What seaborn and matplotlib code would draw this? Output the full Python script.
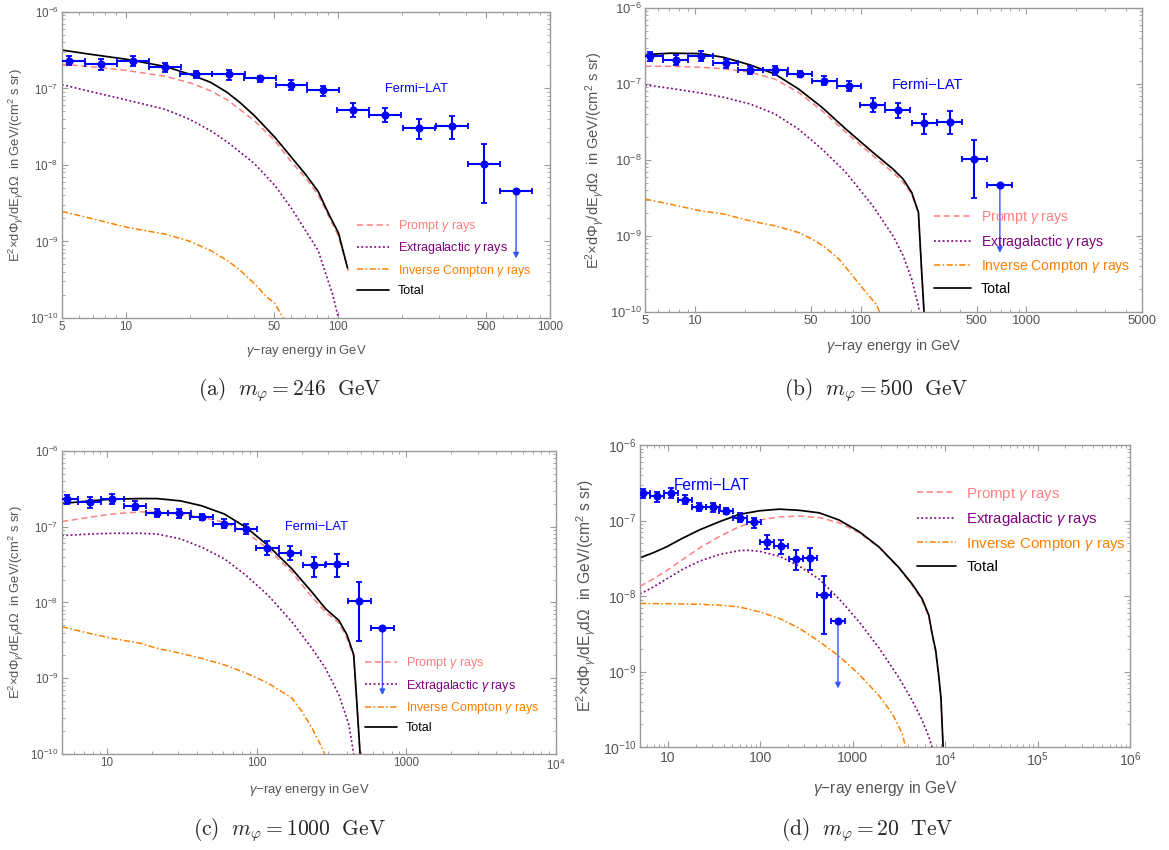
import numpy as np
import seaborn as sns
import matplotlib
matplotlib.use("Agg")
import matplotlib.pyplot as plt
from matplotlib.lines import Line2D
from matplotlib.ticker import LogLocator, NullFormatter

# Fermi-LAT points (same in every panel)
FERMI_E = [5.37, 7.64, 10.8, 15.3, 21.5, 30.5, 42.8, 60.4, 84.9, 118, 167, 241, 345, 486, 692]
FERMI_E_LO = [4.5, 6.4, 9.1, 12.9, 18.1, 25.6, 36.0, 50.8, 71.4, 99.2, 140, 203, 290, 409, 582]
FERMI_E_HI = [6.4, 9.1, 12.9, 18.2, 25.6, 36.3, 50.9, 71.8, 101, 140, 199, 287, 410, 578, 823]
FERMI_FLUX = [2.31e-7, 2.09e-7, 2.31e-7, 1.89e-7, 1.52e-7, 1.52e-7, 1.35e-7, 1.10e-7, 9.46e-8,
              5.29e-8, 4.55e-8, 3.08e-8, 3.20e-8, 1.04e-8, 4.62e-9]
FERMI_HI = [2.63e-7, 2.43e-7, 2.69e-7, 2.16e-7, 1.71e-7, 1.73e-7, 1.47e-7, 1.27e-7, 1.08e-7,
            6.46e-8, 5.62e-8, 4.03e-8, 4.37e-8, 1.85e-8]
FERMI_LO = [2.01e-7, 1.76e-7, 1.99e-7, 1.64e-7, 1.35e-7, 1.30e-7, 1.22e-7, 9.6e-8, 7.98e-8,
            4.24e-8, 3.61e-8, 2.19e-8, 2.19e-8, 3.13e-9]
UL_END = 6.0e-10

# (a) m = 246 GeV
A_TOT_E = [5, 6.7, 10, 15.4, 20.3, 25.1, 30, 34.6, 40.4, 50.4, 60.2, 70.7, 80.7, 90.8, 100.6, 111]
A_TOT = [3.17e-7, 2.81e-7, 2.41e-7, 1.93e-7, 1.51e-7, 1.2e-7, 8.9e-8, 6.5e-8, 4.4e-8, 2.3e-8,
         1.27e-8, 7.4e-9, 4.5e-9, 2.24e-9, 1.29e-9, 4.5e-10]
A_PR_E = [5, 6.7, 10, 15.4, 20.3, 25.1, 30, 34.6, 40.4, 50.4, 60.2, 70.7, 80.7, 90.8, 100.6, 112]
A_PR = [2.07e-7, 1.93e-7, 1.72e-7, 1.44e-7, 1.17e-7, 9.3e-8, 7.1e-8, 5.3e-8, 3.77e-8, 2.08e-8,
        1.10e-8, 6.7e-9, 4.06e-9, 2.1e-9, 1.17e-9, 4.1e-10]
A_EG_E = [5, 6.7, 10, 15.4, 19.9, 25.1, 30.2, 40.4, 50.4, 60.2, 70.7, 80.7, 90.8, 94.1, 100.5]
A_EG = [1.12e-7, 9.2e-8, 7.1e-8, 5.3e-8, 3.97e-8, 2.8e-8, 1.98e-8, 1.04e-8, 5.4e-9, 2.73e-9,
        1.36e-9, 7.6e-10, 2.8e-10, 2.1e-10, 1.0e-10]
A_IC_E = [5, 6.7, 10, 15.4, 19.9, 25.1, 30.2, 34.6, 40.4, 46.1, 50.4, 54.1, 55.5]
A_IC = [2.47e-9, 2.03e-9, 1.54e-9, 1.24e-9, 1.01e-9, 7.6e-10, 5.6e-10, 4.2e-10, 2.8e-10,
        1.89e-10, 1.55e-10, 1.1e-10, 1.0e-10]

# (b) m = 500 GeV
B_E = [5, 7.07, 10.8, 14.9, 21.5, 30.3, 42.1, 58.3, 81.3, 118.3, 156.6, 180.3, 203, 223, 232, 241]
B_TOT = [2.44e-7, 2.54e-7, 2.51e-7, 2.24e-7, 1.78e-7, 1.35e-7, 8.6e-8, 4.93e-8, 2.55e-8, 1.26e-8,
         7.6e-9, 5.6e-9, 3.74e-9, 2.05e-9, 4.2e-10, 1e-10]
B_PR = [1.71e-7, 1.71e-7, 1.66e-7, 1.58e-7, 1.43e-7, 1.16e-7, 7.77e-8, 4.45e-8, 2.31e-8, 1.14e-8,
        6.86e-9, 5.06e-9, 3.56e-9, 1.98e-9, 4.1e-10, 1e-10]
B_EG_E = [5, 7.07, 10.8, 14.9, 21.5, 30.3, 42.1, 58.3, 81.3, 118.3, 156.6, 180.3, 203, 223, 226]
B_EG = [9.7e-8, 8.77e-8, 7.61e-8, 6.67e-8, 5.45e-8, 4.03e-8, 2.55e-8, 1.39e-8, 6.86e-9, 2.49e-9,
        1.0e-9, 5.5e-10, 2.7e-10, 1.2e-10, 1e-10]
B_IC_E = [5, 7.07, 10.8, 14.9, 21.5, 30.3, 42.1, 50.8, 61.2, 74.0, 89.4, 107.8, 124, 130]
B_IC = [3.05e-9, 2.62e-9, 2.14e-9, 1.94e-9, 1.58e-9, 1.36e-9, 1.11e-9, 9.1e-10, 7.05e-10, 4.94e-10,
        2.98e-10, 1.8e-10, 1.26e-10, 1e-10]

# (c) m = 1000 GeV
C_E = [5, 7.65, 10.8, 16.7, 21.6, 31.0, 42.8, 60.8, 84.9, 119.3, 171.8, 234, 288, 354, 401, 445, 468, 491]
C_TOT = [2.02e-7, 2.19e-7, 2.31e-7, 2.35e-7, 2.35e-7, 2.19e-7, 1.89e-7, 1.47e-7, 9.8e-8, 5.63e-8,
         2.78e-8, 1.37e-8, 8.3e-9, 5.8e-9, 3.75e-9, 2.04e-9, 4.5e-10, 1e-10]
C_PR = [1.17e-7, 1.33e-7, 1.47e-7, 1.57e-7, 1.54e-7, 1.47e-7, 1.33e-7, 1.14e-7, 8.4e-8, 5.1e-8,
        2.52e-8, 1.18e-8, 7.5e-9, 5.4e-9, 3.39e-9, 1.94e-9, 4.3e-10, 1e-10]
C_EG_E = [5, 7.65, 10.8, 16.7, 21.6, 31.0, 42.8, 60.8, 84.9, 119.3, 171.8, 234, 288, 354, 413, 445]
C_EG = [7.62e-8, 8.0e-8, 8.17e-8, 8.17e-8, 8.0e-8, 6.9e-8, 5.36e-8, 3.77e-8, 2.28e-8, 1.24e-8,
        5.55e-9, 2.48e-9, 1.36e-9, 6.05e-10, 2.44e-10, 1e-10]
C_IC_E = [5, 7.65, 10.8, 16.7, 21.6, 31.0, 42.8, 60.8, 84.9, 119.3, 171.8, 200, 234, 273, 285]
C_IC = [4.77e-9, 3.9e-9, 3.36e-9, 2.89e-9, 2.48e-9, 2.13e-9, 1.83e-9, 1.5e-9, 1.17e-9, 8.6e-10,
        5.47e-10, 3.66e-10, 2.21e-10, 1.21e-10, 1e-10]

# (d) m = 20 TeV
D_E = [5, 6.89, 9.61, 14.5, 22.0, 36.1, 59.3, 97.6, 160.5, 263.6, 433, 712, 1171, 1925, 3163,
       4404, 5638, 6654, 7220, 7900, 8500, 9000, 9500]
D_TOT = [3.22e-8, 3.74e-8, 4.48e-8, 5.87e-8, 7.54e-8, 9.68e-8, 1.21e-7, 1.35e-7, 1.42e-7, 1.37e-7,
         1.27e-7, 1.02e-7, 7.16e-8, 4.48e-8, 2.38e-8, 1.44e-8, 9.2e-9, 5.58e-9, 3.2e-9, 1.9e-9,
         9.0e-10, 4.5e-10, 1e-10]
D_PR = [1.35e-8, 1.68e-8, 2.16e-8, 3.06e-8, 4.35e-8, 6.17e-8, 8.33e-8, 1.02e-7, 1.12e-7, 1.15e-7,
        1.10e-7, 9.4e-8, 6.95e-8, 4.4e-8, 2.35e-8, 1.39e-8, 8.7e-9, 5.3e-9, 3.06e-9, 1.8e-9,
        8.6e-10, 4.3e-10, 1e-10]
D_EG_E = [5, 6.89, 9.61, 14.5, 22.0, 36.1, 59.3, 73.0, 97.6, 160.5, 263.6, 433, 712, 1171, 1925,
          3163, 4404, 5638, 6654, 7220]
D_EG = [1.07e-8, 1.31e-8, 1.68e-8, 2.27e-8, 2.91e-8, 3.56e-8, 4.01e-8, 4.05e-8, 3.93e-8, 3.38e-8,
        2.5e-8, 1.68e-8, 9.2e-9, 4.57e-9, 2.05e-9, 8.3e-10, 4.13e-10, 2.26e-10, 1.37e-10, 1e-10]
D_IC_E = [5, 9.61, 22.0, 36.1, 59.3, 97.6, 160.5, 263.6, 433, 712, 1171, 1925, 2681, 3435, 3727]
D_IC = [8.0e-9, 7.95e-9, 7.8e-9, 7.6e-9, 7.2e-9, 6.2e-9, 5.07e-9, 3.76e-9, 2.52e-9, 1.6e-9,
        9.2e-10, 4.8e-10, 2.77e-10, 1.51e-10, 1e-10]

LABELS = [r"Prompt $\gamma$ rays", r"Extragalactic $\gamma$ rays",
          r"Inverse Compton $\gamma$ rays", "Total"]
COLORS = ["#ff8080", "#800080", "#ff8000", "black"]
STYLES = [(0, (4, 2.4)), (0, (1.1, 1.5)), (0, (4, 1.6, 1.1, 1.6)), "-"]
WIDTHS = [1.1, 1.2, 1.1, 1.25]
BLUE = "#0000ff"
FRAME = "#9a9a9a"
TXT = "#555555"

sns.set_style("ticks")
plt.rcParams["font.family"] = ["Liberation Sans", "DejaVu Sans"]
plt.rcParams["mathtext.fontset"] = "custom"
plt.rcParams["mathtext.rm"] = "Liberation Sans"
plt.rcParams["mathtext.it"] = "Liberation Sans:italic"
plt.rcParams["mathtext.bf"] = "Liberation Sans:bold"

XLABEL = "$\\gamma$\u2212ray energy in GeV"
YLABEL = "E$^2$\u00d7d$\\Phi_\\gamma$/dE$_\\gamma$d$\\Omega$  in GeV/(cm$^2$ s sr)"


def draw_panel(ax, curves, xmax, xticks, xlabels, fermi_xy, leg_xy, s):
    ax.set_xscale("log")
    ax.set_yscale("log")
    # model curves, order: prompt, extragalactic, IC, total
    for (E, Y), c, ls, lw in zip(curves, COLORS, STYLES, WIDTHS):
        sns.lineplot(x=E, y=Y, ax=ax, color=c, linestyle=ls, linewidth=lw,
                     estimator=None, sort=False, legend=False)

    # Fermi-LAT data, last point is an upper limit
    n = len(FERMI_HI)
    E = np.array(FERMI_E)
    F = np.array(FERMI_FLUX)
    xlo = E - np.array(FERMI_E_LO)
    xhi = np.array(FERMI_E_HI) - E
    yerr = [F[:n] - np.array(FERMI_LO), np.array(FERMI_HI) - F[:n]]
    kw = dict(fmt="o", color=BLUE, ms=4.8, elinewidth=1.5, capsize=2.2, capthick=1.3, zorder=5)
    ax.errorbar(E[:n], F[:n], xerr=[xlo[:n], xhi[:n]], yerr=yerr, **kw)
    ax.errorbar(E[n:], F[n:], xerr=[xlo[n:], xhi[n:]], **kw)
    ax.annotate("", xy=(E[-1], UL_END), xytext=(E[-1], F[-1]),
                arrowprops=dict(arrowstyle="-|>", color="#3355ff", lw=1.0,
                                mutation_scale=8, shrinkA=0, shrinkB=0))
    ax.text(fermi_xy[0], fermi_xy[1], "Fermi\u2212LAT", color=BLUE,
            fontsize=9.3 * s, ha="center", va="center")

    ax.set_xlim(5, xmax)
    ax.set_ylim(1e-10, 1e-6)
    ax.set_xticks(xticks)
    ax.set_xticklabels(xlabels)
    ax.xaxis.set_minor_locator(LogLocator(base=10, subs=np.arange(2, 10), numticks=100))
    ax.xaxis.set_minor_formatter(NullFormatter())
    ax.set_yticks([1e-10, 1e-9, 1e-8, 1e-7, 1e-6])
    ax.set_yticklabels([r"$10^{-10}$", r"$10^{-9}$", r"$10^{-8}$", r"$10^{-7}$", r"$10^{-6}$"])
    ax.yaxis.set_minor_locator(LogLocator(base=10, subs=np.arange(2, 10), numticks=100))
    ax.yaxis.set_minor_formatter(NullFormatter())
    ax.tick_params(which="both", direction="in", top=True, right=True, color=FRAME,
                   labelcolor=TXT, labelsize=8.4 * s, pad=2.5)
    ax.tick_params(which="major", length=4.5, width=0.8)
    ax.tick_params(which="minor", length=2.5, width=0.6)
    for sp in ax.spines.values():
        sp.set_color(FRAME)
        sp.set_linewidth(1.0)

    ax.set_xlabel(XLABEL, fontsize=9.4 * s, color=TXT, labelpad=7)
    ax.set_ylabel(YLABEL, fontsize=9.4 * s, color=TXT, labelpad=3)

    handles = [Line2D([], [], color=c, linestyle=ls, linewidth=lw)
               for c, ls, lw in zip(COLORS, STYLES, WIDTHS)]
    ax.legend(handles, LABELS, loc="upper left", bbox_to_anchor=leg_xy, frameon=False,
              fontsize=9.0 * s, handlelength=2.6, handletextpad=0.7, labelspacing=0.5,
              borderpad=0, borderaxespad=0, labelcolor="linecolor")


fig = plt.figure(figsize=(11.69, 8.5), dpi=100)
ax_a = fig.add_axes([0.053, 0.626, 0.4175, 0.360])
ax_b = fig.add_axes([0.552, 0.633, 0.425, 0.3576])
ax_c = fig.add_axes([0.053, 0.113, 0.4226, 0.3565])
ax_d = fig.add_axes([0.5475, 0.121, 0.4192, 0.3553])

draw_panel(ax_a, [(A_PR_E, A_PR), (A_EG_E, A_EG), (A_IC_E, A_IC), (A_TOT_E, A_TOT)],
           1000, [5, 10, 50, 100, 500, 1000], ["5", "10", "50", "100", "500", "1000"],
           (234, 9.85e-8), (0.604, 0.326), 1.0)
draw_panel(ax_b, [(B_E, B_PR), (B_EG_E, B_EG), (B_IC_E, B_IC), (B_E, B_TOT)],
           5000, [5, 10, 50, 100, 500, 1000, 5000],
           ["5", "10", "50", "100", "500", "1000", "5000"],
           (254, 9.8e-8), (0.582, 0.339), 1.12)
draw_panel(ax_c, [(C_E, C_PR), (C_EG_E, C_EG), (C_IC_E, C_IC), (C_E, C_TOT)],
           1e4, [10, 100, 1000, 1e4], ["10", "100", "1000", r"$10^4$"],
           (250, 1.0e-7), (0.613, 0.325), 1.0)
draw_panel(ax_d, [(D_E, D_PR), (D_EG_E, D_EG), (D_IC_E, D_IC), (D_E, D_TOT)],
           1e6, [10, 100, 1000, 1e4, 1e5, 1e6],
           ["10", "100", "1000", r"$10^4$", r"$10^5$", r"$10^6$"],
           (30, 2.95e-7), (0.565, 0.866), 1.2)

captions = [(0.248, 0.541, r"$\mathrm{(a)}\ \ m_{\varphi} = 246\ \ \mathrm{GeV}$"),
            (0.750, 0.541, r"$\mathrm{(b)}\ \ m_{\varphi} = 500\ \ \mathrm{GeV}$"),
            (0.248, 0.024, r"$\mathrm{(c)}\ \ m_{\varphi} = 1000\ \ \mathrm{GeV}$"),
            (0.742, 0.024, r"$\mathrm{(d)}\ \ m_{\varphi} = 20\ \ \mathrm{TeV}$")]
for x, y, t in captions:
    fig.text(x, y, t, fontsize=15.5, ha="center", va="center", math_fontfamily="cm")

fig.savefig("out.png", dpi=100)
